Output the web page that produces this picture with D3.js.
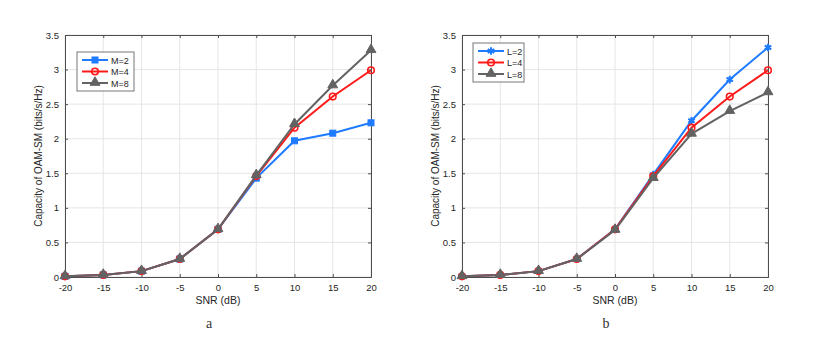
<!DOCTYPE html>
<meta charset="utf-8">
<style>
    html, body { margin: 0; padding: 0; background: #fff; }
    svg text { font-family: "Liberation Sans", Arial, sans-serif; }
</style>
<body>
<svg id="chart" width="818" height="345"></svg>
<script src="https://cdn.jsdelivr.net/npm/d3@7"></script>
<script>
  // x values (SNR in dB)
  var snr = [-20, -15, -10, -5, 0, 5, 10, 15, 20];
  var yTicks = [0, 0.5, 1, 1.5, 2, 2.5, 3, 3.5];

  // panel a: varying M
  var m2 = [0.01, 0.03, 0.085, 0.26, 0.69, 1.43, 1.97, 2.08, 2.23];
  var m4 = [0.01, 0.03, 0.085, 0.26, 0.69, 1.46, 2.16, 2.61, 2.99];
  var m8 = [0.01, 0.03, 0.085, 0.26, 0.69, 1.47, 2.21, 2.77, 3.28];

  // panel b: varying L
  var l2 = [0.01, 0.03, 0.085, 0.26, 0.69, 1.48, 2.26, 2.855, 3.32];
  var l4 = [0.01, 0.03, 0.085, 0.26, 0.69, 1.46, 2.16, 2.61, 2.99];
  var l8 = [0.01, 0.03, 0.085, 0.26, 0.68, 1.43, 2.07, 2.40, 2.67];

  var blue = "#1f7bff", red = "#ff1a1a", gray = "#636363";

  var panels = [
    { left: 65, caption: "a", legend: {x: 77, y: 52, w: 57, h: 39},
      series: [
        {name: "M=2", values: m2, color: blue, marker: "square"},
        {name: "M=4", values: m4, color: red, marker: "circle"},
        {name: "M=8", values: m8, color: gray, marker: "triangle"}
      ]},
    { left: 462, caption: "b", legend: {x: 473, y: 43, w: 51, h: 39},
      series: [
        {name: "L=2", values: l2, color: blue, marker: "star"},
        {name: "L=4", values: l4, color: red, marker: "circle"},
        {name: "L=8", values: l8, color: gray, marker: "triangle"}
      ]}
  ];

  var svg = d3.select("#chart");
  var W = 306, plotTop = 35, plotBottom = 277;

  function drawMarker(g, type, x, y, color) {
    if (type === "square") {
      g.append("rect").attr("x", x - 3).attr("y", y - 3).attr("width", 6).attr("height", 6)
        .attr("fill", color).attr("stroke", color);
    } else if (type === "circle") {
      g.append("circle").attr("cx", x).attr("cy", y).attr("r", 3.3)
        .attr("fill", "none").attr("stroke", color).attr("stroke-width", 1.6);
    } else if (type === "triangle") {
      g.append("path").attr("d", d3.symbol(d3.symbolTriangle, 42)())
        .attr("transform", "translate(" + x + "," + (y - 0.5) + ")")
        .attr("fill", color).attr("stroke", color);
    } else if (type === "star") {
      g.append("path").attr("d", d3.symbol(d3.symbolAsterisk, 40)())
        .attr("transform", "translate(" + x + "," + y + ")")
        .attr("fill", "none").attr("stroke", color).attr("stroke-width", 2);
      g.append("rect").attr("x", x - 2).attr("y", y - 2).attr("width", 4).attr("height", 4)
        .attr("fill", color);
    }
  }

  panels.forEach(function (p) {
    var x = d3.scaleLinear().domain([-20, 20]).range([p.left, p.left + W]);
    var y = d3.scaleLinear().domain([0, 3.5]).range([plotBottom, plotTop]);
    var g = svg.append("g");

    // grid
    g.append("g").selectAll("line").data(snr).enter().append("line")
      .attr("x1", function (d) { return x(d); }).attr("x2", function (d) { return x(d); })
      .attr("y1", plotTop).attr("y2", plotBottom)
      .attr("stroke", "#e6e6e6").attr("stroke-width", 1);
    g.append("g").selectAll("line").data(yTicks).enter().append("line")
      .attr("x1", p.left).attr("x2", p.left + W)
      .attr("y1", function (d) { return y(d); }).attr("y2", function (d) { return y(d); })
      .attr("stroke", "#e6e6e6").attr("stroke-width", 1);

    // axes with inward ticks
    var axCol = "#4d4d4d";
    var xb = g.append("g").attr("transform", "translate(0," + plotBottom + ")")
      .call(d3.axisBottom(x).tickValues(snr).tickSize(-3).tickPadding(7).tickFormat(function (d) { return String(d); }));
    var xt = g.append("g").attr("transform", "translate(0," + plotTop + ")")
      .call(d3.axisTop(x).tickValues(snr).tickSize(-3).tickFormat(""));
    var yl = g.append("g").attr("transform", "translate(" + p.left + ",0)")
      .call(d3.axisLeft(y).tickValues(yTicks).tickSize(-3).tickPadding(6).tickFormat(function (d) { return String(d); }));
    var yr = g.append("g").attr("transform", "translate(" + (p.left + W) + ",0)")
      .call(d3.axisRight(y).tickValues(yTicks).tickSize(-3).tickFormat(""));
    [xb, xt, yl, yr].forEach(function (a) {
      a.select(".domain").attr("stroke", axCol);
      a.selectAll(".tick line").attr("stroke", axCol);
      a.selectAll("text").attr("fill", "#262626").attr("font-size", 9.5)
        .attr("font-family", "Liberation Sans, Arial, sans-serif");
    });

    // axis labels
    g.append("text").attr("x", x(0)).attr("y", 304).attr("text-anchor", "middle")
      .attr("font-size", 10.5).attr("fill", "#262626").text("SNR (dB)");
    g.append("text").attr("transform", "translate(" + (p.left - 23) + "," + ((plotTop + plotBottom) / 2) + ") rotate(-90)")
      .attr("text-anchor", "middle").attr("font-size", 10).attr("fill", "#262626")
      .text("Capacity of OAM-SM (bits/s/Hz)");

    // series
    var line = d3.line().x(function (d, i) { return x(snr[i]); }).y(function (d) { return y(d); });
    p.series.forEach(function (s) {
      g.append("path").datum(s.values).attr("d", line)
        .attr("fill", "none").attr("stroke", s.color).attr("stroke-width", 2);
      s.values.forEach(function (v, i) { drawMarker(g, s.marker, x(snr[i]), y(v), s.color); });
    });

    // legend
    var L = p.legend;
    var lg = g.append("g");
    lg.append("rect").attr("x", L.x).attr("y", L.y).attr("width", L.w).attr("height", L.h)
      .attr("fill", "#fff").attr("stroke", "#777").attr("stroke-width", 1);
    p.series.forEach(function (s, i) {
      var ly = L.y + 8 + i * 11.5;
      lg.append("line").attr("x1", L.x + 5).attr("x2", L.x + 31).attr("y1", ly).attr("y2", ly)
        .attr("stroke", s.color).attr("stroke-width", 2);
      drawMarker(lg, s.marker, L.x + 18, ly, s.color);
      lg.append("text").attr("x", L.x + 34).attr("y", ly + 3.5).attr("font-size", 9)
        .attr("fill", "#262626").text(s.name);
    });

    // caption
    svg.append("text").attr("x", x(0) - 9).attr("y", 328).attr("text-anchor", "middle")
      .attr("font-size", 14).attr("fill", "#333")
      .style("font-family", "Liberation Serif, Times New Roman, serif").text(p.caption);
  });
</script>
</body>
